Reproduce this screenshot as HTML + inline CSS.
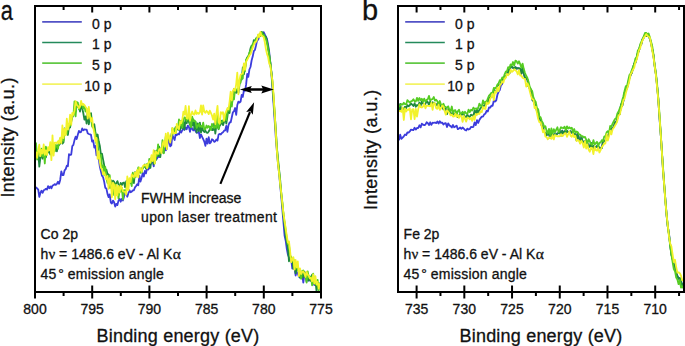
<!DOCTYPE html>
<html><head><meta charset="utf-8"><style>
html,body{margin:0;padding:0;background:#fff;width:685px;height:346px;overflow:hidden;}
svg{display:block;}
</style></head><body>
<svg width="685" height="346" viewBox="0 0 685 346">
<style>
text{font-family:"Liberation Sans",sans-serif;fill:#111;stroke:#111;stroke-width:0.3px;}
.tk{font-size:14px;}
.lg{font-size:14px;}
.an{font-size:14px;}
.ax{font-size:18px;letter-spacing:0.2px;}
.yt{letter-spacing:0.4px;}
.pl{font-size:28px;}
</style>
<rect width="685" height="346" fill="#fff"/>
<path d="M36.0 186.9L37.1 188.6L38.2 189.4L39.3 196.9L40.4 193.0L41.5 190.7L42.6 192.8L43.7 190.3L44.8 189.7L45.9 188.8L47.0 189.6L48.1 186.1L49.2 188.2L50.3 186.5L51.4 188.4L52.5 185.6L53.6 185.2L54.7 184.1L55.8 184.9L56.9 183.8L58.0 181.8L59.1 183.8L60.2 179.9L61.3 171.3L62.4 175.0L63.5 175.1L64.6 170.3L65.7 169.1L66.8 165.7L67.9 166.2L69.0 154.2L70.1 155.0L71.2 154.7L72.3 146.1L73.4 144.9L74.5 140.1L75.6 136.7L76.7 139.0L77.8 134.8L78.9 130.9L80.0 132.4L81.1 131.9L82.2 128.4L83.3 130.2L84.4 129.4L85.5 129.7L86.6 129.6L87.7 133.3L88.8 134.0L89.9 134.3L91.0 134.9L92.1 141.6L93.2 140.4L94.3 147.7L95.4 145.9L96.5 155.4L97.6 155.3L98.7 158.5L99.8 166.5L100.9 171.2L102.0 175.8L103.1 177.2L104.2 181.9L105.3 187.9L106.4 188.5L107.5 193.9L108.6 197.1L109.7 194.4L110.8 202.5L111.9 203.5L113.0 200.6L114.1 202.3L115.2 206.6L116.3 203.9L117.4 205.0L118.5 200.6L119.6 198.7L120.7 201.7L121.8 198.9L122.9 200.6L124.0 196.8L125.1 192.5L126.2 194.2L127.3 196.7L128.4 193.3L129.5 190.3L130.6 192.2L131.7 191.6L132.8 190.4L133.9 190.3L135.0 187.4L136.1 186.0L137.2 184.3L138.3 185.2L139.4 175.7L140.5 181.6L141.6 177.7L142.7 173.1L143.8 176.5L144.9 171.0L146.0 173.4L147.1 168.3L148.2 169.5L149.3 168.2L150.4 164.7L151.5 161.9L152.6 160.8L153.7 166.4L154.8 157.9L155.9 157.7L157.0 158.7L158.1 155.9L159.2 157.1L160.3 153.3L161.4 153.0L162.5 150.5L163.6 152.4L164.7 146.8L165.8 150.3L166.9 148.6L168.0 140.5L169.1 140.8L170.2 146.3L171.3 145.3L172.4 135.1L173.5 137.5L174.6 140.0L175.7 134.0L176.8 135.2L177.9 134.0L179.0 134.4L180.1 130.8L181.2 132.5L182.3 130.2L183.4 128.8L184.5 129.9L185.6 127.5L186.7 129.3L187.8 125.6L188.9 126.9L190.0 131.9L191.1 126.5L192.2 128.7L193.3 130.4L194.4 128.8L195.5 131.0L196.6 132.8L197.7 132.7L198.8 131.3L199.9 138.0L201.0 134.5L202.1 136.8L203.2 139.1L204.3 141.6L205.4 145.9L206.5 138.6L207.6 143.7L208.7 137.1L209.8 143.3L210.9 142.3L212.0 139.3L213.1 140.0L214.2 141.9L215.3 141.2L216.4 139.4L217.5 140.6L218.6 134.6L219.7 133.9L220.8 134.5L221.9 133.0L223.0 132.2L224.1 130.7L225.2 130.3L226.3 125.9L227.4 131.8L228.5 125.1L229.6 122.5L230.7 122.3L231.8 117.3L232.9 112.3L234.0 111.2L235.1 108.0L236.2 114.8L237.3 105.0L238.4 101.6L239.5 102.6L240.6 101.5L241.7 94.8L242.8 96.9L243.9 90.5L245.0 90.8L246.1 84.7L247.2 74.0L248.3 76.8L249.4 69.5L250.5 67.0L251.6 60.5L252.7 56.6L253.8 51.2L254.9 50.0L256.0 45.5L257.1 40.2L258.2 39.7L259.3 36.3L260.4 35.6L261.5 33.5L262.6 35.6L263.7 32.2L264.8 34.5L265.9 36.6L267.0 38.9L268.1 45.0L269.2 52.0L270.3 62.3L271.4 73.4L272.5 88.7L273.6 104.4L274.7 120.9L275.8 137.4L276.9 151.1L278.0 164.0L279.1 173.4L280.2 185.3L281.3 196.9L282.4 210.3L283.5 222.9L284.6 235.8L285.7 240.7L286.8 248.8L287.9 254.6L289.0 257.1L290.1 258.7L291.2 259.4L292.3 268.6L293.4 268.1L294.5 267.5L295.6 275.5L296.7 271.7L297.8 273.5L298.9 276.8L300.0 275.5L301.1 277.1L302.2 273.8L303.3 282.7L304.4 274.7L305.5 276.1L306.6 281.6L307.7 277.8L308.8 280.6L309.9 279.1L311.0 280.9L312.1 281.9L313.2 280.4L314.3 285.0L315.4 282.0L316.5 283.3L317.6 286.4L318.7 286.9L319.8 285.8" stroke="#3c3cdc" stroke-width="1.8" fill="none" stroke-linejoin="round"/>
<path d="M36.0 155.5L37.1 157.1L38.2 151.6L39.3 166.7L40.4 157.6L41.5 154.1L42.6 158.7L43.7 154.7L44.8 152.4L45.9 157.4L47.0 150.8L48.1 152.5L49.2 150.8L50.3 154.5L51.4 150.4L52.5 152.6L53.6 147.8L54.7 151.1L55.8 146.1L56.9 151.3L58.0 145.1L59.1 145.1L60.2 143.5L61.3 137.9L62.4 143.6L63.5 142.4L64.6 128.4L65.7 132.4L66.8 131.2L67.9 135.0L69.0 126.6L70.1 127.5L71.2 121.7L72.3 117.4L73.4 115.0L74.5 110.6L75.6 111.6L76.7 102.5L77.8 106.7L78.9 107.6L80.0 111.6L81.1 103.2L82.2 108.5L83.3 113.0L84.4 119.6L85.5 116.3L86.6 123.6L87.7 111.8L88.8 124.4L89.9 119.0L91.0 113.2L92.1 123.3L93.2 126.1L94.3 124.3L95.4 131.9L96.5 138.1L97.6 134.5L98.7 141.3L99.8 145.6L100.9 154.3L102.0 153.7L103.1 159.7L104.2 165.2L105.3 171.8L106.4 169.6L107.5 173.9L108.6 174.5L109.7 187.8L110.8 180.1L111.9 186.8L113.0 180.7L114.1 181.6L115.2 186.5L116.3 183.2L117.4 181.1L118.5 184.3L119.6 191.1L120.7 182.8L121.8 185.1L122.9 182.8L124.0 182.5L125.1 187.2L126.2 181.4L127.3 180.8L128.4 183.1L129.5 179.3L130.6 182.9L131.7 182.9L132.8 175.0L133.9 183.2L135.0 172.2L136.1 176.5L137.2 171.1L138.3 173.2L139.4 171.8L140.5 169.0L141.6 168.3L142.7 168.1L143.8 167.0L144.9 164.5L146.0 168.7L147.1 167.5L148.2 166.7L149.3 163.8L150.4 167.9L151.5 157.7L152.6 157.7L153.7 164.0L154.8 150.9L155.9 160.1L157.0 150.5L158.1 156.2L159.2 146.6L160.3 157.2L161.4 148.4L162.5 146.4L163.6 153.2L164.7 144.4L165.8 141.9L166.9 139.0L168.0 140.2L169.1 137.0L170.2 138.2L171.3 135.7L172.4 130.3L173.5 131.9L174.6 130.5L175.7 127.1L176.8 129.6L177.9 129.1L179.0 129.9L180.1 129.8L181.2 122.2L182.3 128.4L183.4 122.2L184.5 129.5L185.6 118.7L186.7 123.3L187.8 118.7L188.9 121.9L190.0 124.9L191.1 122.1L192.2 125.5L193.3 119.5L194.4 129.2L195.5 121.9L196.6 132.4L197.7 123.3L198.8 131.1L199.9 122.7L201.0 132.6L202.1 126.7L203.2 130.7L204.3 132.0L205.4 130.6L206.5 132.7L207.6 132.8L208.7 131.5L209.8 129.3L210.9 126.8L212.0 130.0L213.1 130.2L214.2 123.3L215.3 133.7L216.4 125.6L217.5 126.5L218.6 129.2L219.7 125.8L220.8 124.2L221.9 120.6L223.0 125.1L224.1 121.9L225.2 117.4L226.3 123.6L227.4 116.9L228.5 107.7L229.6 113.0L230.7 100.7L231.8 104.6L232.9 96.1L234.0 89.0L235.1 91.7L236.2 92.9L237.3 89.3L238.4 92.8L239.5 84.8L240.6 79.5L241.7 79.7L242.8 67.4L243.9 74.3L245.0 68.3L246.1 60.8L247.2 57.4L248.3 56.4L249.4 53.5L250.5 48.4L251.6 45.7L252.7 46.3L253.8 40.1L254.9 42.0L256.0 38.3L257.1 38.8L258.2 35.1L259.3 36.7L260.4 33.7L261.5 31.9L262.6 32.5L263.7 34.5L264.8 36.3L265.9 36.9L267.0 41.4L268.1 46.9L269.2 55.1L270.3 62.5L271.4 71.9L272.5 82.4L273.6 99.5L274.7 115.1L275.8 130.0L276.9 148.5L278.0 159.0L279.1 169.5L280.2 180.0L281.3 193.5L282.4 204.5L283.5 215.0L284.6 225.0L285.7 236.3L286.8 241.8L287.9 248.3L289.0 261.3L290.1 257.8L291.2 259.2L292.3 260.6L293.4 268.6L294.5 260.7L295.6 273.3L296.7 268.2L297.8 269.4L298.9 270.5L300.0 277.9L301.1 273.4L302.2 274.9L303.3 277.4L304.4 271.6L305.5 274.0L306.6 273.6L307.7 279.3L308.8 280.5L309.9 276.3L311.0 280.8L312.1 274.7L313.2 281.1L314.3 280.2L315.4 280.6L316.5 291.0L317.6 284.7L318.7 282.9L319.8 286.5" stroke="#1f8a3e" stroke-width="1.8" fill="none" stroke-linejoin="round"/>
<path d="M36.0 142.5L37.1 159.5L38.2 151.9L39.3 154.3L40.4 154.7L41.5 148.6L42.6 156.4L43.7 150.7L44.8 163.5L45.9 146.7L47.0 150.0L48.1 150.9L49.2 149.4L50.3 148.5L51.4 150.7L52.5 151.5L53.6 147.3L54.7 151.4L55.8 144.9L56.9 146.2L58.0 148.7L59.1 141.5L60.2 138.5L61.3 139.7L62.4 139.7L63.5 140.8L64.6 130.1L65.7 132.2L66.8 133.8L67.9 123.9L69.0 126.3L70.1 125.8L71.2 119.9L72.3 115.8L73.4 115.2L74.5 101.4L75.6 116.4L76.7 102.2L77.8 102.5L78.9 109.2L80.0 107.3L81.1 103.8L82.2 104.3L83.3 108.5L84.4 106.3L85.5 111.5L86.6 108.8L87.7 110.9L88.8 117.3L89.9 114.7L91.0 117.7L92.1 126.5L93.2 127.5L94.3 129.7L95.4 134.5L96.5 144.2L97.6 139.7L98.7 158.3L99.8 156.2L100.9 154.8L102.0 167.6L103.1 165.4L104.2 175.2L105.3 167.0L106.4 177.9L107.5 183.0L108.6 183.6L109.7 175.1L110.8 187.6L111.9 188.7L113.0 185.9L114.1 195.2L115.2 184.3L116.3 194.5L117.4 188.2L118.5 198.3L119.6 190.1L120.7 191.5L121.8 187.7L122.9 199.5L124.0 190.1L125.1 190.6L126.2 190.2L127.3 185.8L128.4 182.8L129.5 182.5L130.6 181.3L131.7 186.1L132.8 172.6L133.9 178.5L135.0 176.3L136.1 176.0L137.2 174.7L138.3 167.4L139.4 168.0L140.5 172.8L141.6 172.4L142.7 168.2L143.8 166.7L144.9 165.3L146.0 167.3L147.1 163.8L148.2 166.7L149.3 158.9L150.4 163.2L151.5 159.6L152.6 160.6L153.7 157.3L154.8 163.4L155.9 155.1L157.0 155.8L158.1 144.3L159.2 154.3L160.3 149.5L161.4 152.0L162.5 140.2L163.6 153.4L164.7 145.1L165.8 136.4L166.9 139.5L168.0 137.5L169.1 137.9L170.2 136.6L171.3 138.4L172.4 128.1L173.5 133.5L174.6 128.7L175.7 133.2L176.8 126.2L177.9 128.7L179.0 119.4L180.1 125.2L181.2 120.7L182.3 127.5L183.4 119.9L184.5 117.4L185.6 118.0L186.7 120.8L187.8 116.2L188.9 118.2L190.0 123.4L191.1 127.3L192.2 116.6L193.3 121.1L194.4 120.5L195.5 121.6L196.6 127.9L197.7 126.2L198.8 123.7L199.9 126.7L201.0 126.0L202.1 127.0L203.2 122.7L204.3 129.2L205.4 129.2L206.5 125.5L207.6 127.7L208.7 125.9L209.8 127.6L210.9 129.9L212.0 123.8L213.1 126.2L214.2 127.9L215.3 125.1L216.4 127.8L217.5 114.3L218.6 128.8L219.7 119.1L220.8 122.4L221.9 122.4L223.0 120.8L224.1 119.1L225.2 115.5L226.3 120.2L227.4 110.2L228.5 110.9L229.6 109.2L230.7 99.7L231.8 106.7L232.9 96.2L234.0 99.4L235.1 88.9L236.2 89.6L237.3 89.7L238.4 88.1L239.5 80.6L240.6 82.7L241.7 76.4L242.8 78.5L243.9 65.5L245.0 71.1L246.1 59.7L247.2 58.4L248.3 56.6L249.4 52.7L250.5 50.8L251.6 47.7L252.7 43.9L253.8 42.8L254.9 42.0L256.0 38.8L257.1 38.1L258.2 36.4L259.3 34.4L260.4 36.1L261.5 32.3L262.6 35.7L263.7 34.9L264.8 37.9L265.9 39.3L267.0 43.2L268.1 49.5L269.2 54.3L270.3 63.0L271.4 72.9L272.5 84.5L273.6 97.7L274.7 113.1L275.8 131.8L276.9 146.9L278.0 162.1L279.1 171.3L280.2 183.7L281.3 193.7L282.4 202.5L283.5 214.9L284.6 222.3L285.7 230.1L286.8 238.8L287.9 244.3L289.0 245.0L290.1 255.5L291.2 256.8L292.3 260.5L293.4 259.2L294.5 269.3L295.6 268.3L296.7 263.8L297.8 269.7L298.9 271.7L300.0 270.3L301.1 278.9L302.2 270.8L303.3 270.5L304.4 274.0L305.5 276.4L306.6 282.7L307.7 271.5L308.8 277.4L309.9 278.4L311.0 276.6L312.1 285.3L313.2 273.7L314.3 283.9L315.4 281.1L316.5 284.8L317.6 279.8L318.7 291.0L319.8 282.9" stroke="#55cc22" stroke-width="1.8" fill="none" stroke-linejoin="round"/>
<path d="M36.0 151.6L37.1 157.9L38.2 150.6L39.3 144.7L40.4 156.2L41.5 149.8L42.6 153.5L43.7 144.5L44.8 154.9L45.9 150.3L47.0 155.1L48.1 147.1L49.2 150.4L50.3 142.1L51.4 160.2L52.5 135.4L53.6 155.6L54.7 142.6L55.8 142.6L56.9 143.3L58.0 141.1L59.1 143.5L60.2 137.7L61.3 143.2L62.4 125.5L63.5 138.2L64.6 128.9L65.7 135.4L66.8 118.7L67.9 129.7L69.0 125.2L70.1 114.7L71.2 124.8L72.3 112.9L73.4 114.9L74.5 110.4L75.6 101.2L76.7 104.9L77.8 105.9L78.9 108.1L80.0 106.5L81.1 100.9L82.2 105.0L83.3 103.9L84.4 105.1L85.5 106.8L86.6 108.2L87.7 118.7L88.8 106.8L89.9 116.3L91.0 121.4L92.1 117.9L93.2 127.6L94.3 133.1L95.4 141.1L96.5 137.9L97.6 158.8L98.7 151.4L99.8 161.9L100.9 167.7L102.0 169.2L103.1 174.2L104.2 172.3L105.3 175.7L106.4 179.5L107.5 175.8L108.6 188.9L109.7 178.1L110.8 182.3L111.9 197.3L113.0 182.6L114.1 184.7L115.2 199.3L116.3 184.9L117.4 195.7L118.5 185.9L119.6 192.6L120.7 185.7L121.8 187.7L122.9 191.2L124.0 191.7L125.1 191.9L126.2 194.6L127.3 176.3L128.4 190.4L129.5 178.2L130.6 182.0L131.7 174.5L132.8 176.0L133.9 177.1L135.0 172.5L136.1 176.5L137.2 169.8L138.3 177.4L139.4 167.6L140.5 169.0L141.6 171.8L142.7 166.5L143.8 165.1L144.9 165.4L146.0 164.6L147.1 168.3L148.2 163.4L149.3 161.3L150.4 162.6L151.5 155.2L152.6 161.0L153.7 150.1L154.8 163.6L155.9 151.5L157.0 153.5L158.1 153.8L159.2 149.4L160.3 148.7L161.4 153.4L162.5 144.5L163.6 141.3L164.7 146.7L165.8 133.6L166.9 149.2L168.0 132.7L169.1 136.0L170.2 142.6L171.3 136.2L172.4 127.8L173.5 133.3L174.6 133.0L175.7 133.2L176.8 123.9L177.9 127.5L179.0 129.2L180.1 121.3L181.2 123.3L182.3 119.8L183.4 111.6L184.5 114.6L185.6 105.8L186.7 118.1L187.8 118.7L188.9 106.1L190.0 120.7L191.1 114.7L192.2 111.5L193.3 114.3L194.4 114.5L195.5 110.4L196.6 114.0L197.7 112.7L198.8 113.8L199.9 112.2L201.0 105.4L202.1 114.6L203.2 105.3L204.3 111.7L205.4 112.9L206.5 110.8L207.6 111.8L208.7 114.1L209.8 110.7L210.9 112.9L212.0 115.5L213.1 119.6L214.2 113.6L215.3 124.2L216.4 113.9L217.5 105.8L218.6 122.2L219.7 123.8L220.8 112.1L221.9 113.5L223.0 112.2L224.1 120.8L225.2 113.6L226.3 111.2L227.4 108.3L228.5 109.4L229.6 101.5L230.7 91.7L231.8 100.5L232.9 90.9L234.0 88.8L235.1 90.8L236.2 84.1L237.3 72.6L238.4 94.3L239.5 80.1L240.6 74.8L241.7 73.8L242.8 73.6L243.9 63.3L245.0 69.9L246.1 61.7L247.2 59.8L248.3 57.5L249.4 55.4L250.5 54.2L251.6 51.0L252.7 47.6L253.8 45.0L254.9 42.2L256.0 41.8L257.1 39.5L258.2 34.4L259.3 37.0L260.4 32.0L261.5 35.5L262.6 36.1L263.7 37.0L264.8 42.1L265.9 49.1L267.0 53.9L268.1 57.0L269.2 63.7L270.3 65.3L271.4 74.3L272.5 80.7L273.6 95.3L274.7 113.7L275.8 132.9L276.9 151.1L278.0 164.0L279.1 173.4L280.2 183.9L281.3 193.5L282.4 204.0L283.5 213.6L284.6 221.1L285.7 228.7L286.8 235.8L287.9 242.7L289.0 241.5L290.1 251.1L291.2 262.1L292.3 259.2L293.4 257.3L294.5 269.6L295.6 259.9L296.7 267.3L297.8 261.5L298.9 276.2L300.0 268.4L301.1 274.2L302.2 271.9L303.3 271.4L304.4 273.4L305.5 277.0L306.6 271.7L307.7 274.7L308.8 275.9L309.9 278.3L311.0 277.9L312.1 281.4L313.2 274.5L314.3 283.3L315.4 276.2L316.5 284.5L317.6 281.9L318.7 288.7L319.8 283.2" stroke="#f2f22a" stroke-width="1.8" fill="none" stroke-linejoin="round"/>
<path d="M399.0 140.2L400.2 134.7L401.4 138.8L402.6 137.6L403.8 136.3L405.0 134.5L406.2 135.0L407.4 132.5L408.6 132.7L409.8 131.4L411.0 129.6L412.2 129.8L413.4 130.2L414.6 127.7L415.8 129.6L417.0 128.0L418.2 128.0L419.4 125.3L420.6 127.4L421.8 123.7L423.0 124.7L424.2 125.2L425.4 124.6L426.6 122.3L427.8 123.1L429.0 125.1L430.2 122.3L431.4 124.9L432.6 122.6L433.8 122.8L435.0 122.5L436.2 123.1L437.4 121.5L438.6 123.5L439.8 121.3L441.0 122.9L442.2 122.6L443.4 124.5L444.6 123.4L445.8 123.2L447.0 127.1L448.2 123.3L449.4 125.4L450.6 126.1L451.8 127.5L453.0 125.0L454.2 127.3L455.4 126.5L456.6 125.6L457.8 129.2L459.0 128.5L460.2 127.5L461.4 128.9L462.6 127.5L463.8 128.6L465.0 130.0L466.2 130.5L467.4 128.6L468.6 129.5L469.8 129.0L471.0 126.9L472.2 127.1L473.4 126.8L474.6 122.4L475.8 125.1L477.0 120.1L478.2 123.0L479.4 120.0L480.6 118.1L481.8 116.7L483.0 116.7L484.2 114.3L485.4 113.7L486.6 110.8L487.8 111.5L489.0 107.4L490.2 107.7L491.4 105.6L492.6 105.9L493.8 100.5L495.0 101.5L496.2 100.5L497.4 94.7L498.6 91.8L499.8 90.1L501.0 85.1L502.2 84.2L503.4 77.9L504.6 78.6L505.8 76.3L507.0 74.6L508.2 69.3L509.4 73.3L510.6 66.4L511.8 66.7L513.0 67.7L514.2 68.7L515.4 67.1L516.6 68.6L517.8 68.2L519.0 68.4L520.2 68.7L521.4 73.6L522.6 67.7L523.8 73.9L525.0 77.7L526.2 78.0L527.4 79.6L528.6 86.6L529.8 88.6L531.0 89.7L532.2 99.6L533.4 101.0L534.6 104.2L535.8 105.3L537.0 111.4L538.2 112.6L539.4 119.2L540.6 120.2L541.8 125.8L543.0 126.7L544.2 132.1L545.4 132.9L546.6 135.5L547.8 132.0L549.0 134.4L550.2 137.6L551.4 134.0L552.6 136.0L553.8 134.7L555.0 134.2L556.2 134.9L557.4 133.4L558.6 133.2L559.8 130.9L561.0 135.6L562.2 130.7L563.4 133.3L564.6 131.3L565.8 133.3L567.0 130.9L568.2 132.1L569.4 132.1L570.6 131.3L571.8 132.6L573.0 133.6L574.2 134.0L575.4 133.7L576.6 140.4L577.8 133.6L579.0 138.5L580.2 142.7L581.4 136.6L582.6 142.2L583.8 141.7L585.0 141.5L586.2 141.5L587.4 143.4L588.6 146.7L589.8 146.6L591.0 142.9L592.2 148.9L593.4 146.0L594.6 149.2L595.8 146.9L597.0 146.1L598.2 147.5L599.4 147.4L600.6 148.0L601.8 148.1L603.0 141.2L604.2 141.4L605.4 140.4L606.6 136.8L607.8 136.4L609.0 133.4L610.2 131.1L611.4 128.3L612.6 128.4L613.8 126.4L615.0 122.2L616.2 122.6L617.4 118.0L618.6 114.0L619.8 114.1L621.0 104.3L622.2 106.1L623.4 100.9L624.6 92.8L625.8 90.6L627.0 87.9L628.2 83.8L629.4 78.1L630.6 75.1L631.8 72.9L633.0 68.2L634.2 63.6L635.4 62.8L636.6 58.2L637.8 53.1L639.0 50.8L640.2 45.8L641.4 43.9L642.6 39.0L643.8 37.6L645.0 35.1L646.2 36.1L647.4 34.9L648.6 36.1L649.8 38.6L651.0 42.7L652.2 49.1L653.4 55.0L654.6 65.7L655.8 73.7L657.0 85.0L658.2 97.9L659.4 116.1L660.6 132.5L661.8 150.1L663.0 169.6L664.2 185.1L665.4 200.3L666.6 215.3L667.8 226.5L669.0 234.2L670.2 244.6L671.4 254.4L672.6 258.9L673.8 264.2L675.0 266.6L676.2 272.5L677.4 275.9L678.6 278.7L679.8 278.0L681.0 280.8L682.2 285.6L683.4 283.4" stroke="#3c3cdc" stroke-width="1.8" fill="none" stroke-linejoin="round"/>
<path d="M399.0 111.4L400.2 104.0L401.4 110.7L402.6 109.7L403.8 108.6L405.0 106.7L406.2 108.0L407.4 105.1L408.6 106.2L409.8 105.2L411.0 103.5L412.2 104.7L413.4 106.0L414.6 103.3L415.8 106.7L417.0 105.0L418.2 105.7L419.4 102.5L420.6 106.1L421.8 101.5L423.0 103.5L424.2 104.7L425.4 104.0L426.6 100.9L427.8 102.2L429.0 105.2L430.2 101.4L431.4 105.3L432.6 102.3L433.8 103.2L435.0 103.6L436.2 105.2L437.4 103.6L438.6 106.8L439.8 103.8L441.0 106.3L442.2 106.2L443.4 109.4L444.6 108.4L445.8 108.5L447.0 114.2L448.2 108.9L449.4 111.9L450.6 112.9L451.8 115.0L453.0 111.6L454.2 114.9L455.4 113.6L456.6 112.2L457.8 117.1L459.0 115.7L460.2 113.9L461.4 115.5L462.6 113.3L463.8 114.7L465.0 116.5L466.2 117.1L467.4 114.7L468.6 116.7L469.8 116.8L471.0 114.6L472.2 115.5L473.4 115.7L474.6 110.3L475.8 114.8L477.0 108.4L478.2 113.2L479.4 110.0L480.6 108.1L481.8 106.9L483.0 107.7L484.2 105.1L485.4 104.8L486.6 101.5L487.8 102.8L489.0 97.4L490.2 98.0L491.4 95.5L492.6 96.5L493.8 89.4L495.0 91.8L496.2 91.6L497.4 85.9L498.6 84.9L499.8 85.9L501.0 82.0L502.2 82.4L503.4 77.1L504.6 78.5L505.8 76.3L507.0 74.6L508.2 69.3L509.4 73.3L510.6 66.4L511.8 66.7L513.0 67.7L514.2 68.7L515.4 67.1L516.6 68.6L517.8 68.2L519.0 68.4L520.2 68.7L521.4 73.6L522.6 67.7L523.8 73.9L525.0 77.7L526.2 78.0L527.4 79.6L528.6 86.6L529.8 88.6L531.0 89.7L532.2 99.6L533.4 101.0L534.6 104.2L535.8 105.3L537.0 111.4L538.2 112.6L539.4 119.2L540.6 120.2L541.8 125.8L543.0 126.7L544.2 132.1L545.4 132.9L546.6 135.5L547.8 132.0L549.0 134.4L550.2 137.6L551.4 134.0L552.6 136.0L553.8 134.7L555.0 134.2L556.2 134.9L557.4 133.4L558.6 133.2L559.8 130.9L561.0 135.6L562.2 130.7L563.4 133.3L564.6 131.3L565.8 133.3L567.0 130.9L568.2 132.1L569.4 132.1L570.6 131.3L571.8 132.6L573.0 133.6L574.2 134.0L575.4 133.7L576.6 140.4L577.8 133.6L579.0 138.5L580.2 142.7L581.4 136.6L582.6 142.2L583.8 141.7L585.0 141.5L586.2 141.5L587.4 143.4L588.6 146.7L589.8 146.6L591.0 142.9L592.2 148.9L593.4 146.0L594.6 149.2L595.8 146.9L597.0 146.1L598.2 147.5L599.4 147.4L600.6 148.0L601.8 148.1L603.0 141.2L604.2 141.4L605.4 140.4L606.6 136.8L607.8 136.4L609.0 133.4L610.2 131.1L611.4 128.3L612.6 128.4L613.8 126.4L615.0 122.2L616.2 122.6L617.4 118.0L618.6 114.0L619.8 114.1L621.0 104.3L622.2 106.1L623.4 100.9L624.6 92.8L625.8 90.6L627.0 87.9L628.2 83.8L629.4 78.1L630.6 75.1L631.8 72.9L633.0 68.2L634.2 63.6L635.4 62.8L636.6 58.2L637.8 53.1L639.0 50.8L640.2 45.8L641.4 43.9L642.6 39.0L643.8 37.6L645.0 35.1L646.2 36.1L647.4 34.9L648.6 36.1L649.8 38.6L651.0 42.7L652.2 49.1L653.4 55.0L654.6 65.7L655.8 73.7L657.0 85.0L658.2 97.9L659.4 116.1L660.6 132.5L661.8 150.1L663.0 169.6L664.2 185.1L665.4 200.3L666.6 215.3L667.8 226.5L669.0 234.2L670.2 244.6L671.4 254.4L672.6 258.9L673.8 264.2L675.0 266.6L676.2 272.5L677.4 275.9L678.6 278.7L679.8 278.0L681.0 280.8L682.2 285.6L683.4 283.4" stroke="#1f8a3e" stroke-width="1.8" fill="none" stroke-linejoin="round"/>
<path d="M399.0 106.9L400.2 105.3L401.4 104.2L402.6 104.7L403.8 102.8L405.0 104.1L406.2 104.4L407.4 100.1L408.6 101.3L409.8 102.7L411.0 101.3L412.2 100.9L413.4 99.3L414.6 101.3L415.8 101.5L417.0 97.8L418.2 100.9L419.4 98.0L420.6 100.2L421.8 98.8L423.0 101.7L424.2 98.6L425.4 101.6L426.6 99.9L427.8 99.2L429.0 95.9L430.2 100.5L431.4 99.3L432.6 99.1L433.8 97.0L435.0 100.7L436.2 99.8L437.4 101.3L438.6 104.6L439.8 101.0L441.0 104.5L442.2 105.9L443.4 103.7L444.6 106.5L445.8 107.1L447.0 107.5L448.2 106.3L449.4 109.9L450.6 111.3L451.8 106.5L453.0 113.1L454.2 110.4L455.4 110.2L456.6 115.0L457.8 111.2L459.0 109.7L460.2 113.5L461.4 113.3L462.6 111.7L463.8 113.7L465.0 111.8L466.2 113.5L467.4 113.8L468.6 109.6L469.8 112.1L471.0 109.8L472.2 110.6L473.4 107.6L474.6 109.0L475.8 108.5L477.0 109.2L478.2 108.0L479.4 103.6L480.6 105.8L481.8 106.5L483.0 100.3L484.2 103.6L485.4 101.6L486.6 102.0L487.8 98.5L489.0 95.6L490.2 94.4L491.4 92.8L492.6 93.8L493.8 87.9L495.0 88.3L496.2 87.6L497.4 84.7L498.6 83.3L499.8 80.2L501.0 80.9L502.2 77.5L503.4 78.4L504.6 74.3L505.8 71.7L507.0 71.2L508.2 67.1L509.4 68.2L510.6 64.3L511.8 65.5L513.0 62.0L514.2 65.6L515.4 60.6L516.6 61.3L517.8 63.6L519.0 61.3L520.2 64.1L521.4 67.8L522.6 63.6L523.8 69.1L525.0 73.0L526.2 75.8L527.4 77.9L528.6 82.0L529.8 86.9L531.0 89.5L532.2 91.1L533.4 97.4L534.6 100.3L535.8 102.1L537.0 108.5L538.2 109.3L539.4 116.6L540.6 117.3L541.8 121.1L543.0 123.2L544.2 127.1L545.4 126.3L546.6 131.0L547.8 133.5L549.0 128.8L550.2 135.0L551.4 128.4L552.6 134.0L553.8 129.1L555.0 132.4L556.2 129.6L557.4 127.3L558.6 132.4L559.8 129.9L561.0 127.2L562.2 127.9L563.4 128.1L564.6 126.7L565.8 130.5L567.0 126.3L568.2 128.5L569.4 127.3L570.6 128.5L571.8 127.8L573.0 132.5L574.2 129.0L575.4 132.9L576.6 131.5L577.8 132.3L579.0 134.4L580.2 134.6L581.4 136.5L582.6 136.2L583.8 137.5L585.0 136.9L586.2 139.7L587.4 143.8L588.6 139.2L589.8 141.3L591.0 144.1L592.2 144.9L593.4 140.1L594.6 144.7L595.8 143.1L597.0 141.8L598.2 146.4L599.4 142.7L600.6 142.6L601.8 140.1L603.0 141.1L604.2 136.7L605.4 136.2L606.6 132.4L607.8 131.1L609.0 132.9L610.2 126.0L611.4 126.8L612.6 123.6L613.8 121.1L615.0 119.0L616.2 118.3L617.4 113.5L618.6 111.5L619.8 108.2L621.0 106.0L622.2 100.3L623.4 96.2L624.6 90.7L625.8 86.2L627.0 86.3L628.2 80.5L629.4 75.1L630.6 73.6L631.8 70.1L633.0 67.0L634.2 64.0L635.4 58.5L636.6 57.2L637.8 50.6L639.0 49.0L640.2 44.4L641.4 41.7L642.6 39.2L643.8 36.2L645.0 33.0L646.2 32.9L647.4 34.4L648.6 33.5L649.8 37.1L651.0 41.6L652.2 45.9L653.4 53.9L654.6 64.0L655.8 72.1L657.0 83.0L658.2 96.9L659.4 112.7L660.6 130.7L661.8 150.0L663.0 166.8L664.2 183.5L665.4 200.6L666.6 213.9L667.8 226.6L669.0 235.5L670.2 246.5L671.4 254.4L672.6 262.0L673.8 269.0L675.0 271.2L676.2 277.5L677.4 279.5L678.6 284.2L679.8 280.0L681.0 287.7L682.2 286.2L683.4 288.2" stroke="#55cc22" stroke-width="1.8" fill="none" stroke-linejoin="round"/>
<path d="M399.0 111.5L400.2 110.8L401.4 111.8L402.6 107.4L403.8 120.0L405.0 108.4L406.2 111.5L407.4 109.5L408.6 109.9L409.8 108.3L411.0 119.4L412.2 109.3L413.4 109.2L414.6 119.1L415.8 108.8L417.0 116.5L418.2 109.3L419.4 104.3L420.6 107.1L421.8 107.5L423.0 106.6L424.2 103.6L425.4 108.3L426.6 105.6L427.8 105.8L429.0 105.9L430.2 106.3L431.4 102.7L432.6 109.8L433.8 103.1L435.0 103.4L436.2 108.2L437.4 108.9L438.6 104.6L439.8 109.9L441.0 108.4L442.2 105.5L443.4 106.4L444.6 111.0L445.8 114.7L447.0 110.2L448.2 111.6L449.4 113.0L450.6 115.4L451.8 114.6L453.0 116.5L454.2 116.3L455.4 113.6L456.6 116.9L457.8 114.9L459.0 117.9L460.2 115.1L461.4 116.4L462.6 121.8L463.8 115.8L465.0 118.9L466.2 121.6L467.4 117.4L468.6 118.0L469.8 119.3L471.0 117.8L472.2 120.9L473.4 116.2L474.6 119.9L475.8 113.9L477.0 114.8L478.2 113.5L479.4 114.0L480.6 111.1L481.8 112.1L483.0 106.9L484.2 108.7L485.4 109.0L486.6 102.4L487.8 104.0L489.0 103.1L490.2 98.9L491.4 96.4L492.6 93.6L493.8 100.1L495.0 91.3L496.2 92.7L497.4 87.6L498.6 91.1L499.8 85.3L501.0 84.1L502.2 81.3L503.4 82.5L504.6 78.3L505.8 77.8L507.0 73.8L508.2 75.3L509.4 73.8L510.6 69.7L511.8 71.9L513.0 71.1L514.2 69.3L515.4 70.3L516.6 71.2L517.8 74.4L519.0 70.2L520.2 75.6L521.4 75.4L522.6 77.8L523.8 78.5L525.0 78.9L526.2 86.7L527.4 83.3L528.6 85.7L529.8 91.2L531.0 95.7L532.2 99.2L533.4 99.5L534.6 108.2L535.8 106.8L537.0 113.3L538.2 119.0L539.4 122.3L540.6 122.2L541.8 126.7L543.0 132.3L544.2 130.0L545.4 136.6L546.6 137.0L547.8 139.3L549.0 137.7L550.2 137.3L551.4 138.9L552.6 135.1L553.8 139.4L555.0 135.0L556.2 135.7L557.4 136.4L558.6 136.2L559.8 136.4L561.0 134.1L562.2 136.1L563.4 135.4L564.6 133.4L565.8 133.1L567.0 136.8L568.2 134.2L569.4 131.4L570.6 135.7L571.8 136.7L573.0 133.8L574.2 137.1L575.4 135.8L576.6 141.1L577.8 139.9L579.0 140.8L580.2 143.7L581.4 140.6L582.6 143.1L583.8 147.5L585.0 141.2L586.2 148.5L587.4 144.5L588.6 149.6L589.8 151.7L591.0 147.6L592.2 148.0L593.4 154.1L594.6 146.9L595.8 150.2L597.0 150.7L598.2 147.6L599.4 152.5L600.6 150.2L601.8 147.1L603.0 145.7L604.2 143.5L605.4 143.5L606.6 134.2L607.8 140.6L609.0 136.4L610.2 130.6L611.4 134.4L612.6 129.3L613.8 127.8L615.0 125.6L616.2 123.7L617.4 120.6L618.6 115.3L619.8 114.5L621.0 109.4L622.2 105.6L623.4 100.1L624.6 98.6L625.8 93.3L627.0 89.1L628.2 85.5L629.4 80.6L630.6 74.3L631.8 72.4L633.0 69.7L634.2 67.8L635.4 62.3L636.6 59.8L637.8 55.6L639.0 50.1L640.2 48.1L641.4 43.4L642.6 40.3L643.8 37.9L645.0 36.3L646.2 34.1L647.4 35.8L648.6 36.8L649.8 37.4L651.0 43.4L652.2 50.5L653.4 56.7L654.6 65.6L655.8 74.7L657.0 86.5L658.2 99.0L659.4 114.7L660.6 132.3L661.8 150.7L663.0 170.4L664.2 185.1L665.4 201.9L666.6 214.9L667.8 225.4L669.0 236.7L670.2 243.5L671.4 246.4L672.6 254.4L673.8 262.1L675.0 259.7L676.2 267.3L677.4 272.7L678.6 272.3L679.8 273.2L681.0 275.7L682.2 280.2L683.4 280.6" stroke="#f2f22a" stroke-width="1.8" fill="none" stroke-linejoin="round"/>
<rect x="35" y="6" width="286" height="286" fill="none" stroke="#000" stroke-width="2"/>
<line x1="35.0" y1="6" x2="35.0" y2="12.5" stroke="#000" stroke-width="2"/>
<line x1="35.0" y1="285.5" x2="35.0" y2="298.5" stroke="#000" stroke-width="2"/>
<line x1="92.2" y1="6" x2="92.2" y2="12.5" stroke="#000" stroke-width="2"/>
<line x1="92.2" y1="285.5" x2="92.2" y2="298.5" stroke="#000" stroke-width="2"/>
<line x1="149.4" y1="6" x2="149.4" y2="12.5" stroke="#000" stroke-width="2"/>
<line x1="149.4" y1="285.5" x2="149.4" y2="298.5" stroke="#000" stroke-width="2"/>
<line x1="206.60000000000002" y1="6" x2="206.60000000000002" y2="12.5" stroke="#000" stroke-width="2"/>
<line x1="206.60000000000002" y1="285.5" x2="206.60000000000002" y2="298.5" stroke="#000" stroke-width="2"/>
<line x1="263.8" y1="6" x2="263.8" y2="12.5" stroke="#000" stroke-width="2"/>
<line x1="263.8" y1="285.5" x2="263.8" y2="298.5" stroke="#000" stroke-width="2"/>
<line x1="321.0" y1="6" x2="321.0" y2="12.5" stroke="#000" stroke-width="2"/>
<line x1="321.0" y1="285.5" x2="321.0" y2="298.5" stroke="#000" stroke-width="2"/>
<line x1="63.6" y1="6" x2="63.6" y2="10" stroke="#000" stroke-width="2"/>
<line x1="63.6" y1="292" x2="63.6" y2="296" stroke="#000" stroke-width="2"/>
<line x1="120.80000000000001" y1="6" x2="120.80000000000001" y2="10" stroke="#000" stroke-width="2"/>
<line x1="120.80000000000001" y1="292" x2="120.80000000000001" y2="296" stroke="#000" stroke-width="2"/>
<line x1="178.0" y1="6" x2="178.0" y2="10" stroke="#000" stroke-width="2"/>
<line x1="178.0" y1="292" x2="178.0" y2="296" stroke="#000" stroke-width="2"/>
<line x1="235.20000000000002" y1="6" x2="235.20000000000002" y2="10" stroke="#000" stroke-width="2"/>
<line x1="235.20000000000002" y1="292" x2="235.20000000000002" y2="296" stroke="#000" stroke-width="2"/>
<line x1="292.40000000000003" y1="6" x2="292.40000000000003" y2="10" stroke="#000" stroke-width="2"/>
<line x1="292.40000000000003" y1="292" x2="292.40000000000003" y2="296" stroke="#000" stroke-width="2"/>
<rect x="398" y="6" width="286" height="286" fill="none" stroke="#000" stroke-width="2"/>
<line x1="416.6" y1="6" x2="416.6" y2="12.5" stroke="#000" stroke-width="2"/>
<line x1="416.6" y1="285.5" x2="416.6" y2="298.5" stroke="#000" stroke-width="2"/>
<line x1="464.32000000000005" y1="6" x2="464.32000000000005" y2="12.5" stroke="#000" stroke-width="2"/>
<line x1="464.32000000000005" y1="285.5" x2="464.32000000000005" y2="298.5" stroke="#000" stroke-width="2"/>
<line x1="512.04" y1="6" x2="512.04" y2="12.5" stroke="#000" stroke-width="2"/>
<line x1="512.04" y1="285.5" x2="512.04" y2="298.5" stroke="#000" stroke-width="2"/>
<line x1="559.76" y1="6" x2="559.76" y2="12.5" stroke="#000" stroke-width="2"/>
<line x1="559.76" y1="285.5" x2="559.76" y2="298.5" stroke="#000" stroke-width="2"/>
<line x1="607.48" y1="6" x2="607.48" y2="12.5" stroke="#000" stroke-width="2"/>
<line x1="607.48" y1="285.5" x2="607.48" y2="298.5" stroke="#000" stroke-width="2"/>
<line x1="655.2" y1="6" x2="655.2" y2="12.5" stroke="#000" stroke-width="2"/>
<line x1="655.2" y1="285.5" x2="655.2" y2="298.5" stroke="#000" stroke-width="2"/>
<line x1="440.46000000000004" y1="6" x2="440.46000000000004" y2="10" stroke="#000" stroke-width="2"/>
<line x1="440.46000000000004" y1="292" x2="440.46000000000004" y2="296" stroke="#000" stroke-width="2"/>
<line x1="488.18" y1="6" x2="488.18" y2="10" stroke="#000" stroke-width="2"/>
<line x1="488.18" y1="292" x2="488.18" y2="296" stroke="#000" stroke-width="2"/>
<line x1="535.9000000000001" y1="6" x2="535.9000000000001" y2="10" stroke="#000" stroke-width="2"/>
<line x1="535.9000000000001" y1="292" x2="535.9000000000001" y2="296" stroke="#000" stroke-width="2"/>
<line x1="583.62" y1="6" x2="583.62" y2="10" stroke="#000" stroke-width="2"/>
<line x1="583.62" y1="292" x2="583.62" y2="296" stroke="#000" stroke-width="2"/>
<line x1="631.34" y1="6" x2="631.34" y2="10" stroke="#000" stroke-width="2"/>
<line x1="631.34" y1="292" x2="631.34" y2="296" stroke="#000" stroke-width="2"/>
<line x1="679.0600000000001" y1="6" x2="679.0600000000001" y2="10" stroke="#000" stroke-width="2"/>
<line x1="679.0600000000001" y1="292" x2="679.0600000000001" y2="296" stroke="#000" stroke-width="2"/>
<text x="35.0" y="313.5" text-anchor="middle" class="tk">800</text>
<text x="92.2" y="313.5" text-anchor="middle" class="tk">795</text>
<text x="149.4" y="313.5" text-anchor="middle" class="tk">790</text>
<text x="206.6" y="313.5" text-anchor="middle" class="tk">785</text>
<text x="263.8" y="313.5" text-anchor="middle" class="tk">780</text>
<text x="321.0" y="313.5" text-anchor="middle" class="tk">775</text>
<text x="416.6" y="313.5" text-anchor="middle" class="tk">735</text>
<text x="464.3" y="313.5" text-anchor="middle" class="tk">730</text>
<text x="512.0" y="313.5" text-anchor="middle" class="tk">725</text>
<text x="559.8" y="313.5" text-anchor="middle" class="tk">720</text>
<text x="607.5" y="313.5" text-anchor="middle" class="tk">715</text>
<text x="655.2" y="313.5" text-anchor="middle" class="tk">710</text>
<line x1="42.2" y1="21.9" x2="81.8" y2="21.9" stroke="#5252c6" stroke-width="1.7"/>
<text x="111.5" y="28.5" text-anchor="end" class="lg">0 p</text>
<line x1="42.2" y1="42.5" x2="81.8" y2="42.5" stroke="#248a5c" stroke-width="1.7"/>
<text x="111.5" y="49.1" text-anchor="end" class="lg">1 p</text>
<line x1="42.2" y1="63.2" x2="81.8" y2="63.2" stroke="#62c845" stroke-width="1.7"/>
<text x="111.5" y="69.8" text-anchor="end" class="lg">5 p</text>
<line x1="42.2" y1="84.2" x2="81.8" y2="84.2" stroke="#f3f365" stroke-width="1.7"/>
<text x="111.5" y="90.8" text-anchor="end" class="lg">10 p</text>
<line x1="405.2" y1="21.9" x2="444.8" y2="21.9" stroke="#5252c6" stroke-width="1.7"/>
<text x="474.5" y="28.5" text-anchor="end" class="lg">0 p</text>
<line x1="405.2" y1="42.5" x2="444.8" y2="42.5" stroke="#248a5c" stroke-width="1.7"/>
<text x="474.5" y="49.1" text-anchor="end" class="lg">1 p</text>
<line x1="405.2" y1="63.2" x2="444.8" y2="63.2" stroke="#62c845" stroke-width="1.7"/>
<text x="474.5" y="69.8" text-anchor="end" class="lg">5 p</text>
<line x1="405.2" y1="84.2" x2="444.8" y2="84.2" stroke="#f3f365" stroke-width="1.7"/>
<text x="474.5" y="90.8" text-anchor="end" class="lg">10 p</text>
<text x="40.6" y="238.6" class="an">Co 2p</text><text x="40.6" y="259" class="an">h<tspan style="font-family:&quot;Liberation Serif&quot;,serif;font-size:15px">ν</tspan> = 1486.6 eV - Al K<tspan dx="0.5" style="font-family:&quot;Liberation Serif&quot;,serif;font-size:15.5px">α</tspan></text><text x="40.6" y="279.1" class="an">45<tspan dx="2">°</tspan><tspan style="letter-spacing:0.2px"> emission angle</tspan></text>
<text x="403.6" y="238.6" class="an">Fe 2p</text><text x="403.6" y="259" class="an">h<tspan style="font-family:&quot;Liberation Serif&quot;,serif;font-size:15px">ν</tspan> = 1486.6 eV - Al K<tspan dx="0.5" style="font-family:&quot;Liberation Serif&quot;,serif;font-size:15.5px">α</tspan></text><text x="403.6" y="279.1" class="an">45<tspan dx="2">°</tspan><tspan style="letter-spacing:0.2px"> emission angle</tspan></text>
<text x="141" y="202.5" class="an">FWHM increase</text>
<text x="141" y="222.2" class="an" style="letter-spacing:0.4px">upon laser treatment</text>
<!-- arrows -->
<line x1="220.4" y1="183.9" x2="250" y2="112" stroke="#000" stroke-width="2.1"/>
<polygon points="254.1,102.2 246.2,111.9 250.4,111.2 252.8,114.7" fill="#000"/>
<line x1="249" y1="89.5" x2="264.5" y2="89.5" stroke="#000" stroke-width="2.5"/>
<polygon points="239.9,89.5 251.8,85.9 250,89.5 251.8,93.1" fill="#000"/>
<polygon points="273.8,89.5 261.3,85.5 263.2,89.5 261.3,93.5" fill="#000"/>
<text x="178" y="341.5" text-anchor="middle" class="ax">Binding energy (eV)</text>
<text x="541" y="341.5" text-anchor="middle" class="ax">Binding energy (eV)</text>
<text transform="translate(14,137.4) rotate(-90)" text-anchor="middle" class="ax yt">Intensity (a.u.)</text>
<text transform="translate(377,149.7) rotate(-90)" text-anchor="middle" class="ax yt">Intensity (a.u.)</text>
<text transform="translate(0.8,19.8) scale(0.78,1.0)" class="pl">a</text>
<text x="362" y="20.4" class="pl" style="font-size:29px">b</text>
</svg>
</body></html>
